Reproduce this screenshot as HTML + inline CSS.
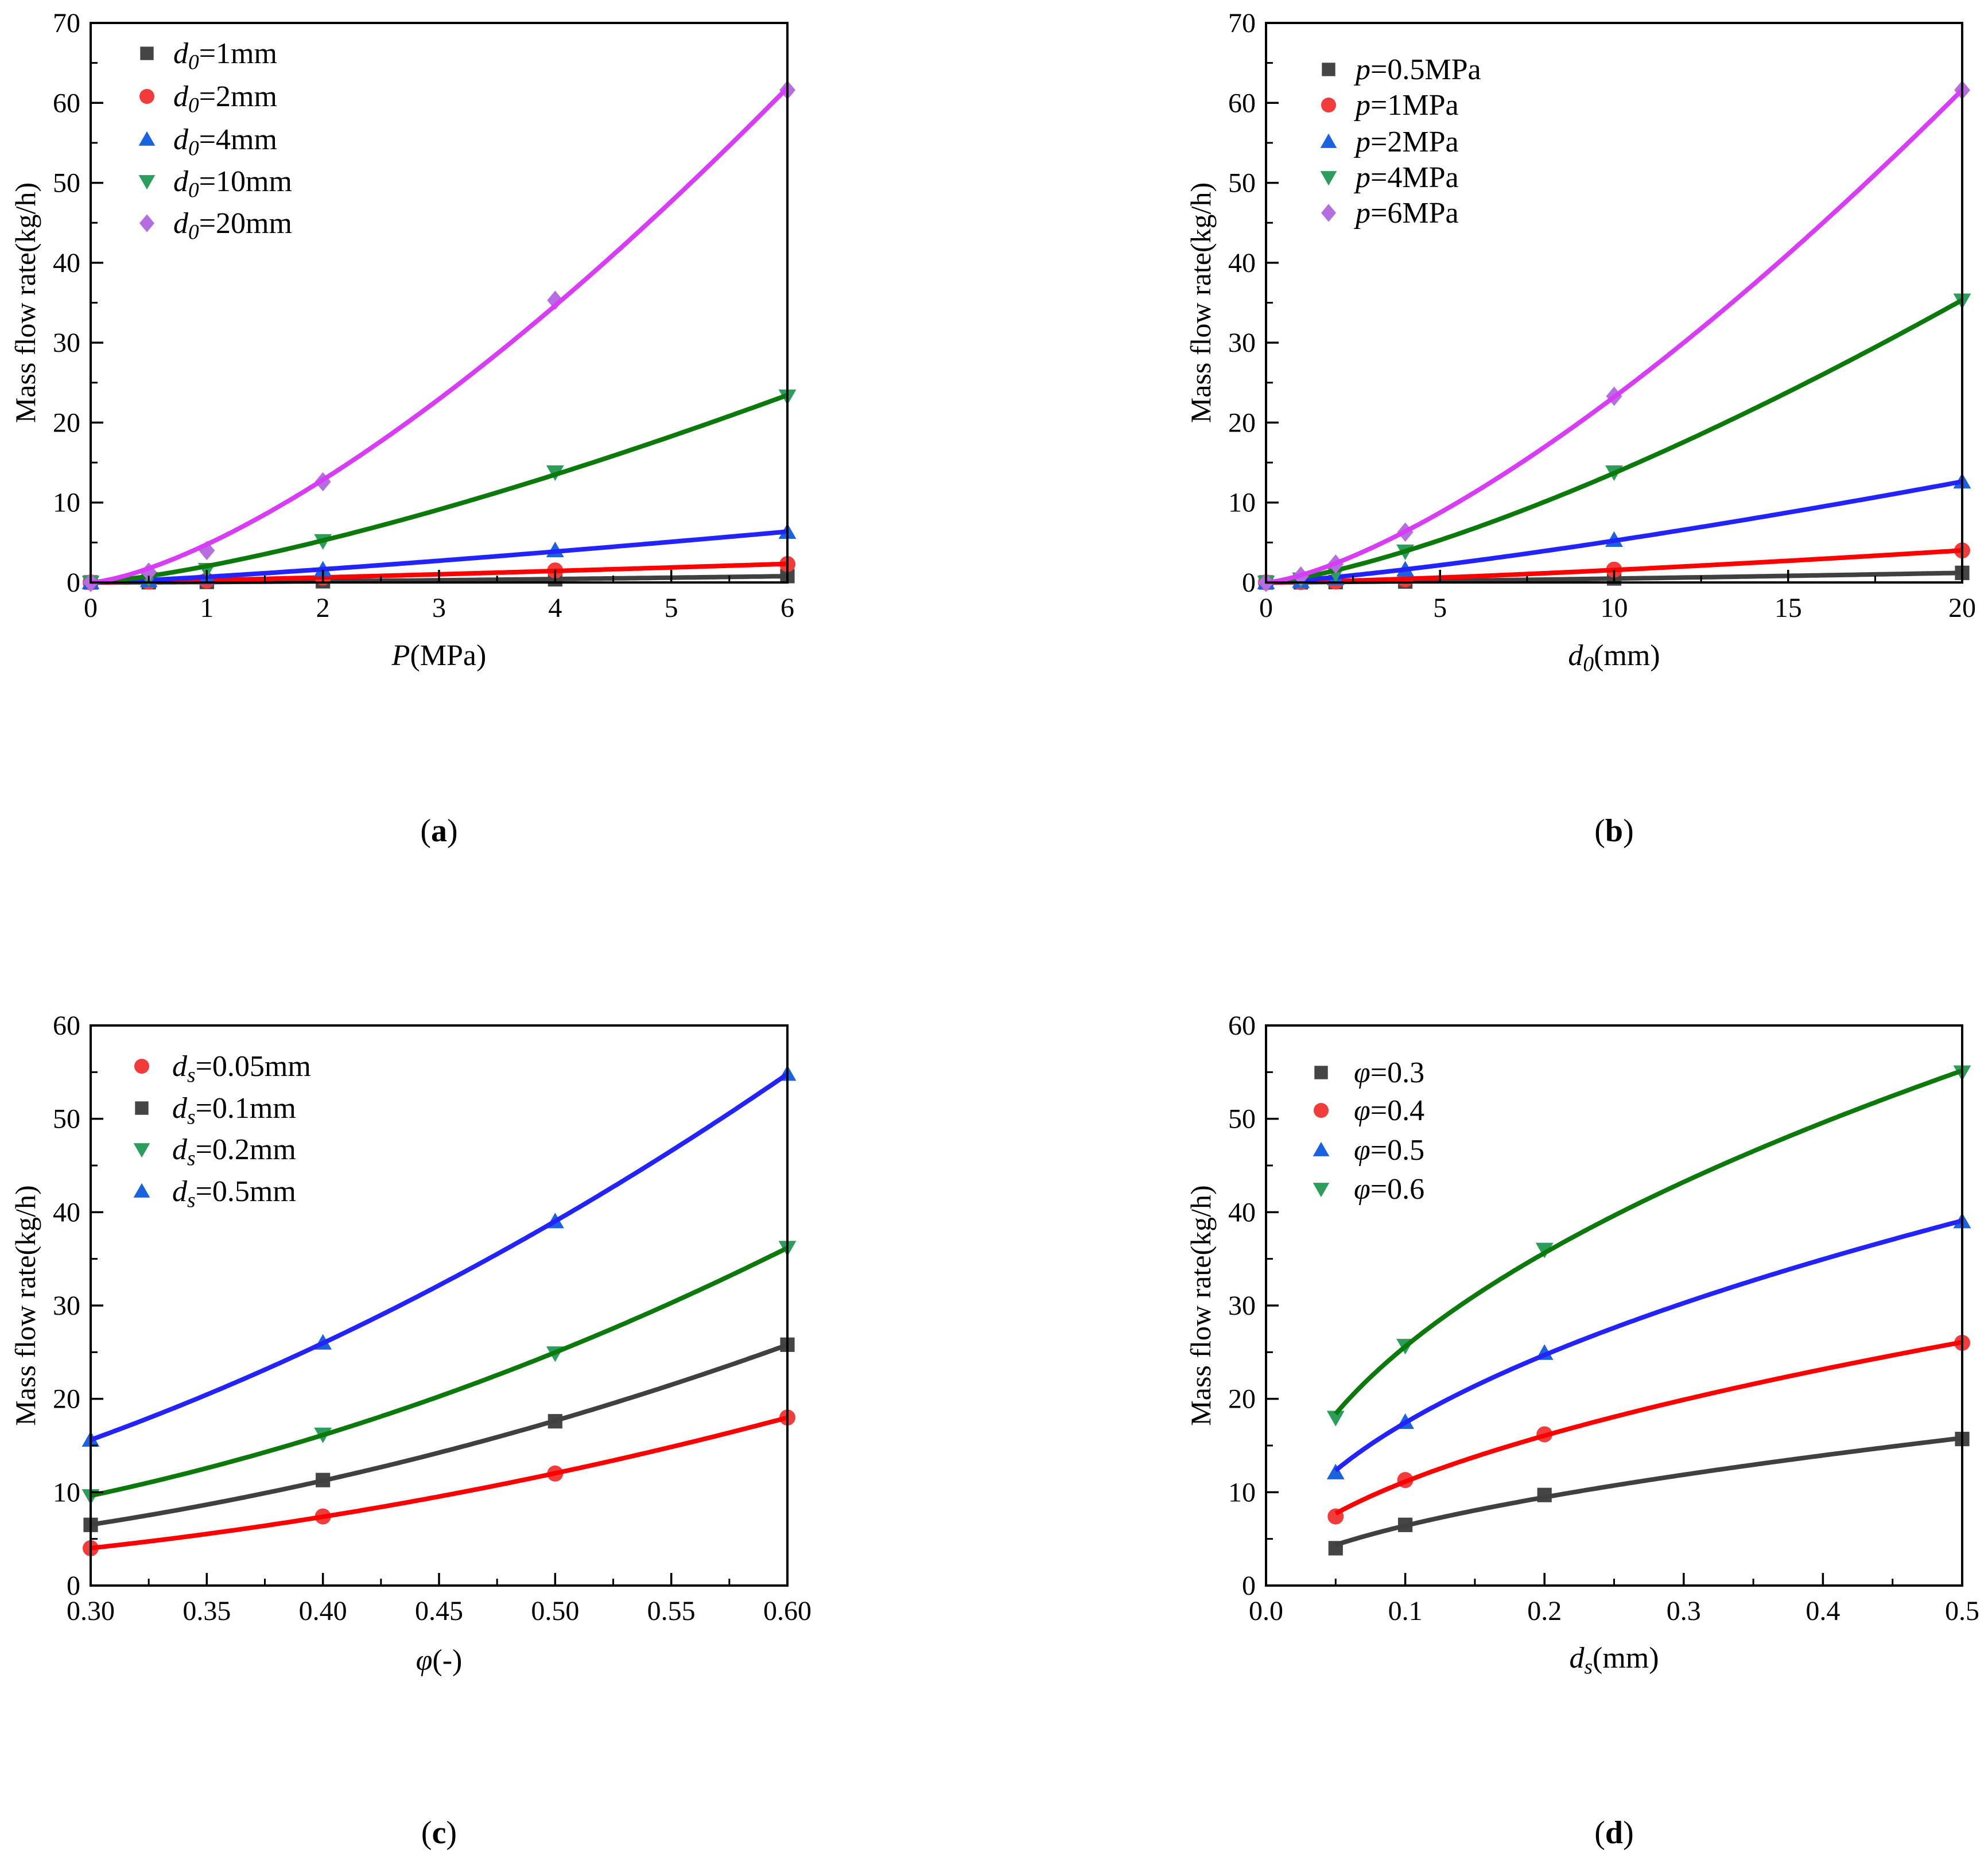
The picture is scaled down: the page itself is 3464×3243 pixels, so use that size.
<!DOCTYPE html>
<html><head><meta charset="utf-8"><style>
html,body{margin:0;padding:0;background:#fff}
svg{display:block}
text{font-family:"Liberation Serif",serif;fill:#000}
</style></head><body>
<svg id="fig" width="3464" height="3243" viewBox="0 0 3464 3243" xmlns="http://www.w3.org/2000/svg"></svg>
<script>
// ---- Panel (a): mass flow vs P ----
const aX=[0,0.5,1,2,4,6];
const aD1=[0,0.03,0.07,0.15,0.4,0.8];
const aD2=[0,0.1,0.25,0.6,1.5,2.3];
const aD4=[0,0.25,0.6,1.6,4.0,6.3];
const aD10=[0,0.5,1.6,5.2,13.8,23.3];
const aD20=[0,1.3,4.0,12.6,35.3,61.6];
// ---- Panel (b): mass flow vs d0 ----
const bX=[0,1,2,4,10,20];
const bP05=[0,0.02,0.05,0.12,0.5,1.2];
const bP1=[0,0.05,0.12,0.4,1.6,4.0];
const bP2=[0,0.15,0.5,1.6,5.3,12.6];
const bP4=[0,0.4,1.1,3.9,13.8,35.3];
const bP6=[0,0.8,2.3,6.3,23.3,61.6];
// ---- Panel (c): mass flow vs phi ----
const cX=[0.3,0.4,0.5,0.6];
const cS005=[4.0,7.4,12.0,18.0];
const cS01=[6.5,11.3,17.6,25.8];
const cS02=[9.6,16.2,24.9,36.2];
const cS05=[15.6,26.0,39.0,54.8];
// ---- Panel (d): mass flow vs ds ----
const dX=[0.05,0.1,0.2,0.5];
const dF03=[4.0,6.5,9.7,15.7];
const dF04=[7.4,11.3,16.2,26.0];
const dF05=[12.1,17.5,24.9,39.0];
const dF06=[18.0,25.7,36.0,55.0];
// tick labels
const aXT=["0","1","2","3","4","5","6"];
const bXT=["0","5","10","15","20"];
const cXT=["0.30","0.35","0.40","0.45","0.50","0.55","0.60"];
const dXT=["0.0","0.1","0.2","0.3","0.4","0.5"];
const yT70=["0","10","20","30","40","50","60","70"];
const yT60=["0","10","20","30","40","50","60"];

const NS="http://www.w3.org/2000/svg";
const svg=document.getElementById('fig');
function el(tag,attrs,parent){const e=document.createElementNS(NS,tag);for(const k in attrs)e.setAttribute(k,attrs[k]);(parent||svg).appendChild(e);return e;}

const COL={black:{m:'#454545',l:'#404040'},red:{m:'#f23c3c',l:'#ff0000'},blue:{m:'#1a62e0',l:'#2323ff'},green:{m:'#2a9e5a',l:'#0b7a0b'},purple:{m:'#b46ee0',l:'#d83cf6'}};

function marker(g,shape,cx,cy,color,s){
  let m;
  if(shape==='sq') m=el('rect',{x:cx-s*0.45,y:cy-s*0.45,width:s*0.9,height:s*0.9,fill:color},g);
  else if(shape==='ci') m=el('circle',{cx:cx,cy:cy,r:s*0.5,fill:color},g);
  else if(shape==='tu') m=el('polygon',{points:`${cx},${cy-s*0.55} ${cx-s*0.55},${cy+s*0.42} ${cx+s*0.55},${cy+s*0.42}`,fill:color},g);
  else if(shape==='td') m=el('polygon',{points:`${cx},${cy+s*0.55} ${cx-s*0.55},${cy-s*0.42} ${cx+s*0.55},${cy-s*0.42}`,fill:color},g);
  else m=el('polygon',{points:`${cx},${cy-s*0.6} ${cx+s*0.5},${cy} ${cx},${cy+s*0.6} ${cx-s*0.5},${cy}`,fill:color},g);
  return m;
}
function quadFit(xs,ys){
  // least squares y = c0 + c1 x + c2 x^2
  const S=[0,0,0,0,0],T=[0,0,0];
  xs.forEach((x,i)=>{let p=1;for(let k=0;k<5;k++){S[k]+=p;if(k<3)T[k]+=p*ys[i];p*=x;}});
  const M=[[S[0],S[1],S[2],T[0]],[S[1],S[2],S[3],T[1]],[S[2],S[3],S[4],T[2]]];
  for(let i=0;i<3;i++){for(let j=i+1;j<3;j++){const f=M[j][i]/M[i][i];for(let k=i;k<4;k++)M[j][k]-=f*M[i][k];}}
  const c=[0,0,0];
  for(let i=2;i>=0;i--){let s=M[i][3];for(let k=i+1;k<3;k++)s-=M[i][k]*c[k];c[i]=s/M[i][i];}
  return x=>c[0]+c[1]*x+c[2]*x*x;
}
// weighted least-squares fit (weights y^2): 'pow' y=a*x^b
function fit(xs,ys,kind){
  if(kind==='quad') return quadFit(xs,ys);
  const X=[],Y=[],W=[];
  xs.forEach((x,i)=>{if(ys[i]>0&&x>0){X.push(Math.log(x));Y.push(Math.log(ys[i]));W.push(ys[i]*ys[i]);}});
  const sw=W.reduce((s,v)=>s+v,0);
  let mx=0,my=0;X.forEach((v,i)=>{mx+=W[i]*v;my+=W[i]*Y[i];});mx/=sw;my/=sw;
  let sxy=0,sxx=0;X.forEach((v,i)=>{sxy+=W[i]*(v-mx)*(Y[i]-my);sxx+=W[i]*(v-mx)*(v-mx);});
  const b=sxy/sxx,a=Math.exp(my-b*mx);
  return x=>x<=0?0:a*Math.pow(x,b);
}
function rich(g,x,y,parts,size,anchor){
  const t=el('text',{x:x,y:y,'font-size':size,'text-anchor':anchor||'start'},g);
  parts.forEach(p=>{
    const s=el('tspan',{},t);
    if(p[1]) s.setAttribute('font-style','italic');
    if(p[2]){s.setAttribute('font-size',size*0.72);s.setAttribute('dy',size*0.2);}
    else if(p[3]){s.setAttribute('dy',-size*0.2);}
    s.textContent=p[0];
  });
  return t;
}

function panel(cfg){
  const g=el('g',{});
  
  
  const L=cfg.L,R=cfg.R,T=cfg.T,B=cfg.B;
  const sx=v=>L+(v-cfg.x0)/(cfg.x1-cfg.x0)*(R-L);
  const sy=v=>B-(v-cfg.y0)/(cfg.y1-cfg.y0)*(B-T);
  cfg.series.forEach(s=>{
    const sg=el('g',{},g);
    
    
    s.v.forEach((v,i)=>{const m=marker(sg,s.shape,sx(cfg.xs[i]),sy(v),COL[s.c].m,28);
      
      });
    const f=fit(cfg.xs,s.v,cfg.fit);
    const xa=cfg.xs[0],xb=cfg.xs[cfg.xs.length-1];
    let d='';
    for(let k=0;k<=200;k++){const x=xa+(xb-xa)*k/200;d+=(k?'L':'M')+sx(x).toFixed(1)+','+sy(f(x)).toFixed(1);}
    const p=el('path',{d:d,fill:'none',stroke:COL[s.c].l,'stroke-width':8,'stroke-linejoin':'round'},sg);
    
    
  });
  const fr=el('rect',{x:L,y:T,width:R-L,height:B-T,fill:'none',stroke:'#000','stroke-width':4},g);
  
  
  const xt=el('g',{},g);
  
  
  cfg.xTicks.forEach((lab,i)=>{
    const v=cfg.x0+i*cfg.xStep,x=sx(v);
    el('line',{x1:x,y1:B,x2:x,y2:B-22,stroke:'#000','stroke-width':3.5},xt);
    if(i<cfg.xTicks.length-1){const xm=sx(v+cfg.xStep/2);el('line',{x1:xm,y1:B,x2:xm,y2:B-12,stroke:'#000','stroke-width':3},xt);}
    const t=el('text',{x:x,y:B+60,'font-size':48,'text-anchor':'middle'},xt);t.textContent=lab;
  });
  const yt=el('g',{},g);
  
  
  cfg.yTicks.forEach((lab,i)=>{
    const v=cfg.y0+i*cfg.yStep,y=sy(v);
    el('line',{x1:L,y1:y,x2:L+22,y2:y,stroke:'#000','stroke-width':3.5},yt);
    if(i<cfg.yTicks.length-1){const ym=sy(v+cfg.yStep/2);el('line',{x1:L,y1:ym,x2:L+12,y2:ym,stroke:'#000','stroke-width':3},yt);}
    const t=el('text',{x:L-18,y:y+16,'font-size':48,'text-anchor':'end'},yt);t.textContent=lab;
  });
  const ytl=el('text',{x:0,y:0,'font-size':50,'text-anchor':'middle',transform:`translate(${L-97},${(T+B)/2}) rotate(-90)`},g);
  ytl.textContent='Mass flow rate(kg/h)';
  
  
  const xtl=rich(g,(L+R)/2,cfg.xTitleY,cfg.xTitle,52,'middle');
  
  
  const lg=el('g',{},g);
  
  
  cfg.series.forEach((s,i)=>{
    const y=cfg.legY[i];
    const e=el('g',{},lg);
    
    
    marker(e,s.shape,cfg.legMX,y,COL[s.c].m,26);
    rich(e,cfg.legTX,y+17,s.label,52,'start');
  });
  const cap=el('text',{x:(L+R)/2,y:cfg.capY,'font-size':56,'text-anchor':'middle'},g);
  cap.innerHTML='(<tspan font-weight="bold">'+cfg.cap+'</tspan>)';
  
  
}
const d0=(v)=>[['d',1],['0',1,1],['='+v,0,0,1]];
const pp=(v)=>[['p',1],['='+v]];
const ds=(v)=>[['d',1],['s',1,1],['='+v,0,0,1]];
const ph=(v)=>[['φ',1],['='+v]];

panel({name:'panel-a',L:158,R:1372,T:40,B:1015,x0:0,x1:6,xStep:1,y0:0,y1:70,yStep:10,xs:aX,fit:'pow',
  xTicks:aXT,yTicks:yT70,xTitle:[['P',1],['(MPa)']],xTitleY:1159,capY:1466,cap:'a',
  legMX:256,legTX:302,legY:[93,168,243,316,389],
  series:[{id:'d0-1mm',v:aD1,c:'black',shape:'sq',label:d0('1mm')},
    {id:'d0-2mm',v:aD2,c:'red',shape:'ci',label:d0('2mm')},
    {id:'d0-4mm',v:aD4,c:'blue',shape:'tu',label:d0('4mm')},
    {id:'d0-10mm',v:aD10,c:'green',shape:'td',label:d0('10mm')},
    {id:'d0-20mm',v:aD20,c:'purple',shape:'di',label:d0('20mm')}]});
panel({name:'panel-b',L:2206,R:3419,T:40,B:1015,x0:0,x1:20,xStep:5,y0:0,y1:70,yStep:10,xs:bX,fit:'pow',
  xTicks:bXT,yTicks:yT70,xTitle:[['d',1],['0',1,1],['(mm)',0,0,1]],xTitleY:1159,capY:1466,cap:'b',
  legMX:2315,legTX:2362,legY:[121,183,247,309,371],
  series:[{id:'p-0.5MPa',v:bP05,c:'black',shape:'sq',label:pp('0.5MPa')},
    {id:'p-1MPa',v:bP1,c:'red',shape:'ci',label:pp('1MPa')},
    {id:'p-2MPa',v:bP2,c:'blue',shape:'tu',label:pp('2MPa')},
    {id:'p-4MPa',v:bP4,c:'green',shape:'td',label:pp('4MPa')},
    {id:'p-6MPa',v:bP6,c:'purple',shape:'di',label:pp('6MPa')}]});
panel({name:'panel-c',L:158,R:1372,T:1787,B:2763,x0:0.3,x1:0.6,xStep:0.05,y0:0,y1:60,yStep:10,xs:cX,fit:'quad',
  xTicks:cXT,yTicks:yT60,xTitle:[['φ',1],['(-)']],xTitleY:2910,capY:3212,cap:'c',
  legMX:247,legTX:300,legY:[1858,1931,2003,2076],
  series:[{id:'ds-0.05mm',v:cS005,c:'red',shape:'ci',label:ds('0.05mm')},
    {id:'ds-0.1mm',v:cS01,c:'black',shape:'sq',label:ds('0.1mm')},
    {id:'ds-0.2mm',v:cS02,c:'green',shape:'td',label:ds('0.2mm')},
    {id:'ds-0.5mm',v:cS05,c:'blue',shape:'tu',label:ds('0.5mm')}]});
panel({name:'panel-d',L:2206,R:3419,T:1787,B:2763,x0:0,x1:0.5,xStep:0.1,y0:0,y1:60,yStep:10,xs:dX,fit:'pow',
  xTicks:dXT,yTicks:yT60,xTitle:[['d',1],['s',1,1],['(mm)',0,0,1]],xTitleY:2906,capY:3212,cap:'d',
  legMX:2302,legTX:2359,legY:[1869,1935,2004,2072],
  series:[{id:'phi-0.3',v:dF03,c:'black',shape:'sq',label:ph('0.3')},
    {id:'phi-0.4',v:dF04,c:'red',shape:'ci',label:ph('0.4')},
    {id:'phi-0.5',v:dF05,c:'blue',shape:'tu',label:ph('0.5')},
    {id:'phi-0.6',v:dF06,c:'green',shape:'td',label:ph('0.6')}]});
</script>
</body></html>
